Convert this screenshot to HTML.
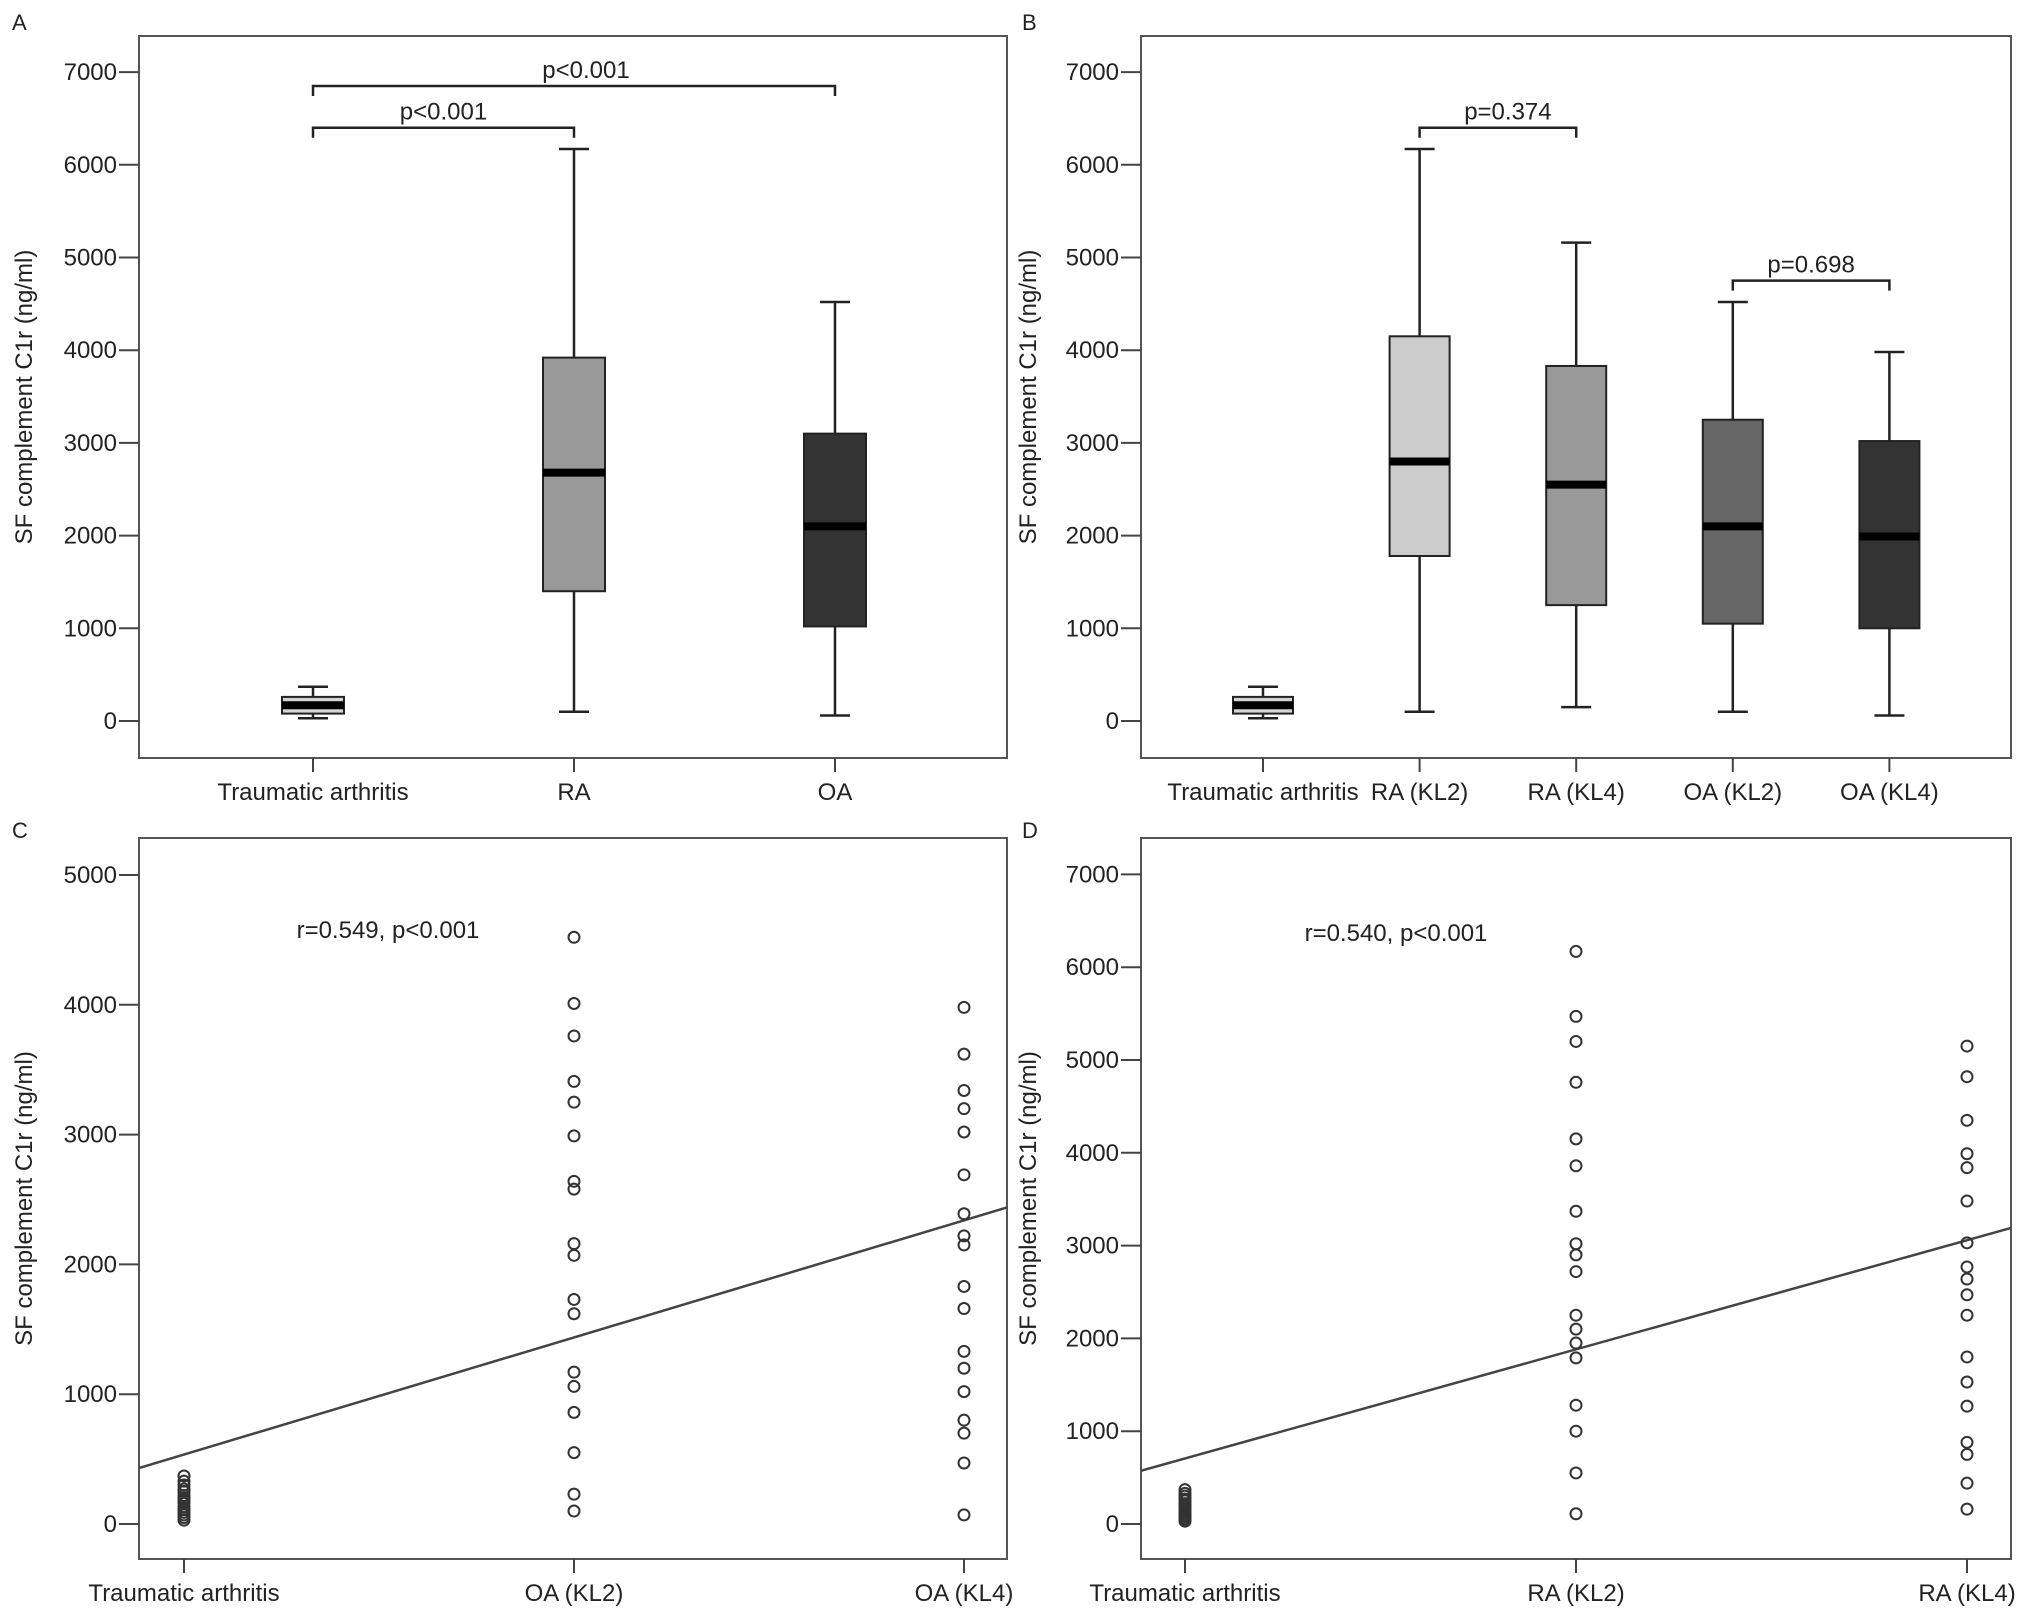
<!DOCTYPE html>
<html><head><meta charset="utf-8"><style>
html,body{margin:0;padding:0;background:#fff}
svg{display:block}
text{font-family:"Liberation Sans",Arial,sans-serif;fill:#222}
</style></head><body>
<svg id="fig" width="2029" height="1619" viewBox="0 0 2029 1619" xmlns="http://www.w3.org/2000/svg"></svg>
<script>
// ---- Panel A data ----
const aCats = ["Traumatic arthritis", "RA", "OA"];
const aMin = [30, 100, 60];
const aQ1 = [80, 1400, 1020];
const aMed = [170, 2680, 2100];
const aQ3 = [260, 3920, 3100];
const aMax = [370, 6170, 4520];
const aFill = ["#d4d4d4", "#999999", "#333333"];
// ---- Panel B data ----
const bCats = ["Traumatic arthritis", "RA (KL2)", "RA (KL4)", "OA (KL2)", "OA (KL4)"];
const bMin = [30, 100, 150, 100, 60];
const bQ1 = [80, 1780, 1250, 1050, 1000];
const bMed = [170, 2800, 2550, 2100, 1990];
const bQ3 = [260, 4150, 3830, 3250, 3020];
const bMax = [370, 6170, 5160, 4520, 3980];
const bFill = ["#d4d4d4", "#cccccc", "#999999", "#666666", "#333333"];
const boxTicks = [0, 1000, 2000, 3000, 4000, 5000, 6000, 7000];
// ---- Panel C data ----
const cCats = ["Traumatic arthritis", "OA (KL2)", "OA (KL4)"];
const cTrauma = [30, 50, 70, 90, 110, 130, 160, 180, 200, 220, 250, 270, 300, 330, 370];
const cKL2 = [4520, 4010, 3760, 3410, 3250, 2990, 2640, 2580, 2160, 2070, 1730, 1620, 1170, 1060, 860, 550, 230, 100];
const cKL4 = [3980, 3620, 3340, 3200, 3020, 2690, 2390, 2220, 2150, 1830, 1660, 1330, 1200, 1020, 800, 700, 470, 70];
const cFit = [535, 902]; // intercept, slope
const cTicks = [0, 1000, 2000, 3000, 4000, 5000];
// ---- Panel D data ----
const dCats = ["Traumatic arthritis", "RA (KL2)", "RA (KL4)"];
const dTrauma = [30, 50, 70, 90, 110, 130, 160, 180, 200, 220, 250, 270, 300, 330, 370];
const dKL2 = [6170, 5470, 5200, 4760, 4150, 3860, 3370, 3020, 2900, 2720, 2250, 2100, 1950, 1790, 1280, 1000, 550, 110];
const dKL4 = [5150, 4820, 4350, 3990, 3840, 3480, 3030, 2770, 2640, 2470, 2250, 1800, 1530, 1270, 880, 750, 440, 160];
const dFit = [706, 1176];
const dTicks = [0, 1000, 2000, 3000, 4000, 5000, 6000, 7000];

const NS = "http://www.w3.org/2000/svg";
const svg = document.getElementById("fig");
function mk(tag, attrs, parent) {
  const e = document.createElementNS(NS, tag);
  for (const k in attrs) e.setAttribute(k, attrs[k]);
  (parent || svg).appendChild(e);
  return e;
}
function txt(s, x, y, anchor, parent, extra) {
  const t = mk("text", Object.assign({x: x, y: y, "text-anchor": anchor || "middle", "font-size": 24}, extra || {}), parent);
  t.textContent = s;
  return t;
}

function frame(P, letter, ticks, yscale, cats, xscale) {
  const g = mk("g", {});
  
  
  const lab = txt(letter, P.letterX, P.letterY, "start", g, {"font-size": 22});
  
  
  const r = mk("rect", {x: P.l, y: P.t, width: P.r - P.l, height: P.b - P.t, fill: "none", stroke: "#555", "stroke-width": 2}, g);
  
  
  ticks.forEach(v => {
    const y = yscale(v);
    const tl = mk("line", {x1: P.l - 20, x2: P.l, y1: y, y2: y, stroke: "#444", "stroke-width": 2}, g);
    
    
    const tt = txt(String(v), P.l - 22, y + 8, "end", g);
    
    
  });
  cats.forEach((c, i) => {
    const x = xscale(i);
    const tl = mk("line", {x1: x, x2: x, y1: P.b, y2: P.b + 14, stroke: "#444", "stroke-width": 2}, g);
    
    
    const tt = txt(c, x, P.b + 42, "middle", g);
    
    
  });
  const cy = (P.t + P.b) / 2;
  const yt = txt("SF complement C1r (ng/ml)", P.titleX, cy, "middle", g, {transform: "rotate(-90 " + P.titleX + " " + cy + ")"});
  
  
  return g;
}

function boxPanel(P, letter, cats, mins, q1, med, q3, maxs, fills, brackets) {
  const ys = v => P.y0 - v * P.k;
  const xs = i => P.x0 + i * P.dx;
  const g = frame(P, letter, boxTicks, ys, cats, xs);
  cats.forEach((c, i) => {
    const x = xs(i), w = P.bw;
    const wl = mk("line", {x1: x, x2: x, y1: ys(maxs[i]), y2: ys(mins[i]), stroke: "#222", "stroke-width": 2.5}, g);
    
    
    [maxs[i], mins[i]].forEach(v => {
      const cap = mk("line", {x1: x - 15, x2: x + 15, y1: ys(v), y2: ys(v), stroke: "#222", "stroke-width": 2.5}, g);
      
      
    });
    const b = mk("rect", {x: x - w / 2, y: ys(q3[i]), width: w, height: ys(q1[i]) - ys(q3[i]), fill: fills[i], stroke: "#222", "stroke-width": 2}, g);
    
    
    const m = mk("line", {x1: x - w / 2, x2: x + w / 2, y1: ys(med[i]), y2: ys(med[i]), stroke: "#000", "stroke-width": 8}, g);
    
    
  });
  brackets.forEach(br => {
    const y = ys(br.v), x1 = xs(br.i), x2 = xs(br.j);
    const p = mk("path", {d: "M" + x1 + "," + (y + 10) + "V" + y + "H" + x2 + "V" + (y + 10), fill: "none", stroke: "#222", "stroke-width": 2.5}, g);
    
    
    const t = txt(br.label, (x1 + x2) / 2 + br.dxText, y - 8, "middle", g);
    
    
  });
}

function scatterPanel(P, letter, cats, ticks, groups, fit, note) {
  const ys = v => P.y0 - v * P.k;
  const xs = i => P.x0 + i * P.dx;
  const g = frame(P, letter, ticks, ys, cats, xs);
  const u0 = (P.l - P.x0) / P.dx, u1 = (P.r - P.x0) / P.dx;
  const fl = mk("line", {x1: P.l, x2: P.r, y1: ys(fit[0] + fit[1] * u0), y2: ys(fit[0] + fit[1] * u1), stroke: "#444", "stroke-width": 2.5}, g);
  
  
  groups.forEach((vals, i) => {
    vals.forEach(v => {
      const c = mk("circle", {cx: xs(i), cy: ys(v), r: 5.5, fill: "none", stroke: "#333", "stroke-width": 2}, g);
      
      
    });
  });
  const n = txt(note, P.noteX, P.noteY, "middle", g);
  
  
}

boxPanel({l: 139, r: 1007, t: 36, b: 758, y0: 721, k: 0.0927, x0: 313, dx: 261, bw: 62, letterX: 12, letterY: 30, titleX: 32},
  "A", aCats, aMin, aQ1, aMed, aQ3, aMax, aFill,
  [{i: 0, j: 1, v: 6400, label: "p<0.001", dxText: 0}, {i: 0, j: 2, v: 6850, label: "p<0.001", dxText: 12}]);
boxPanel({l: 1141, r: 2011, t: 36, b: 758, y0: 721, k: 0.0927, x0: 1263, dx: 156.6, bw: 60, letterX: 1022, letterY: 30, titleX: 1036},
  "B", bCats, bMin, bQ1, bMed, bQ3, bMax, bFill,
  [{i: 1, j: 2, v: 6400, label: "p=0.374", dxText: 10}, {i: 3, j: 4, v: 4750, label: "p=0.698", dxText: 0}]);
scatterPanel({l: 139, r: 1007, t: 838, b: 1559, y0: 1524, k: 0.1298, x0: 184, dx: 390, letterX: 12, letterY: 838, titleX: 32, noteX: 388, noteY: 938},
  "C", cCats, cTicks, [cTrauma, cKL2, cKL4], cFit, "r=0.549, p<0.001");
scatterPanel({l: 1141, r: 2011, t: 838, b: 1559, y0: 1524, k: 0.0928, x0: 1185, dx: 391, letterX: 1022, letterY: 838, titleX: 1036, noteX: 1396, noteY: 941},
  "D", dCats, dTicks, [dTrauma, dKL2, dKL4], dFit, "r=0.540, p<0.001");
</script>
</body></html>
